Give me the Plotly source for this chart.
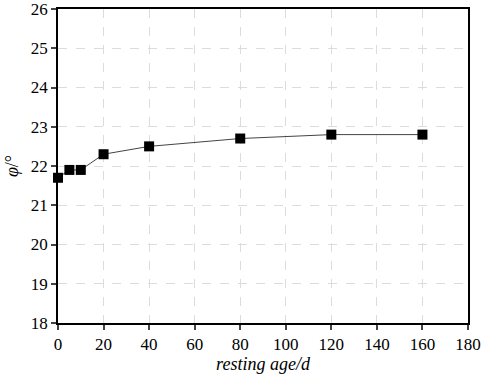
import plotly.graph_objects as go

age = [0, 5, 10, 20, 40, 80, 120, 160]
phi = [21.7, 21.9, 21.9, 22.3, 22.5, 22.7, 22.8, 22.8]
xticks = [0, 20, 40, 60, 80, 100, 120, 140, 160, 180]
yticks = [18, 19, 20, 21, 22, 23, 24, 25, 26]

fig = go.Figure()
fig.add_trace(go.Scatter(
    x=age, y=phi, mode="lines+markers",
    line=dict(color="#444444", width=1),
    marker=dict(symbol="square", size=10, color="black"),
    cliponaxis=False, showlegend=False,
))

font = dict(family="Liberation Serif, Times New Roman, serif", size=17, color="black")
tfont = dict(family="Liberation Serif, Times New Roman, serif", size=18, color="black")
fig.update_layout(
    width=484, height=381,
    margin=dict(l=58, r=16, t=9, b=58),
    paper_bgcolor="white", plot_bgcolor="white",
    font=font,
    xaxis=dict(
        range=[0, 180], tickvals=xticks, ticks="outside", ticklen=5, tickwidth=1.5,
        showline=True, linecolor="black", linewidth=1.5, mirror=True,
        showgrid=True, gridcolor="#dcdcdc", griddash="dash", gridwidth=1,
        zeroline=False, automargin=False, ticklabeloverflow="allow",
        tickfont=font,
        title=dict(text="<i>resting age/d</i>", standoff=2, font=tfont),
    ),
    yaxis=dict(
        range=[18, 26], tickvals=yticks, ticks="outside", ticklen=5, tickwidth=1.5,
        showline=True, linecolor="black", linewidth=1.5, mirror=True,
        showgrid=True, gridcolor="#dcdcdc", griddash="dash", gridwidth=1,
        zeroline=False, automargin=False, ticklabeloverflow="allow",
        tickfont=font,
        title=dict(text="<i>φ</i>/°", standoff=8, font=tfont),
    ),
)
fig.write_html("out.html", config={"displayModeBar": False},
               post_script="document.body.style.margin='0';")
